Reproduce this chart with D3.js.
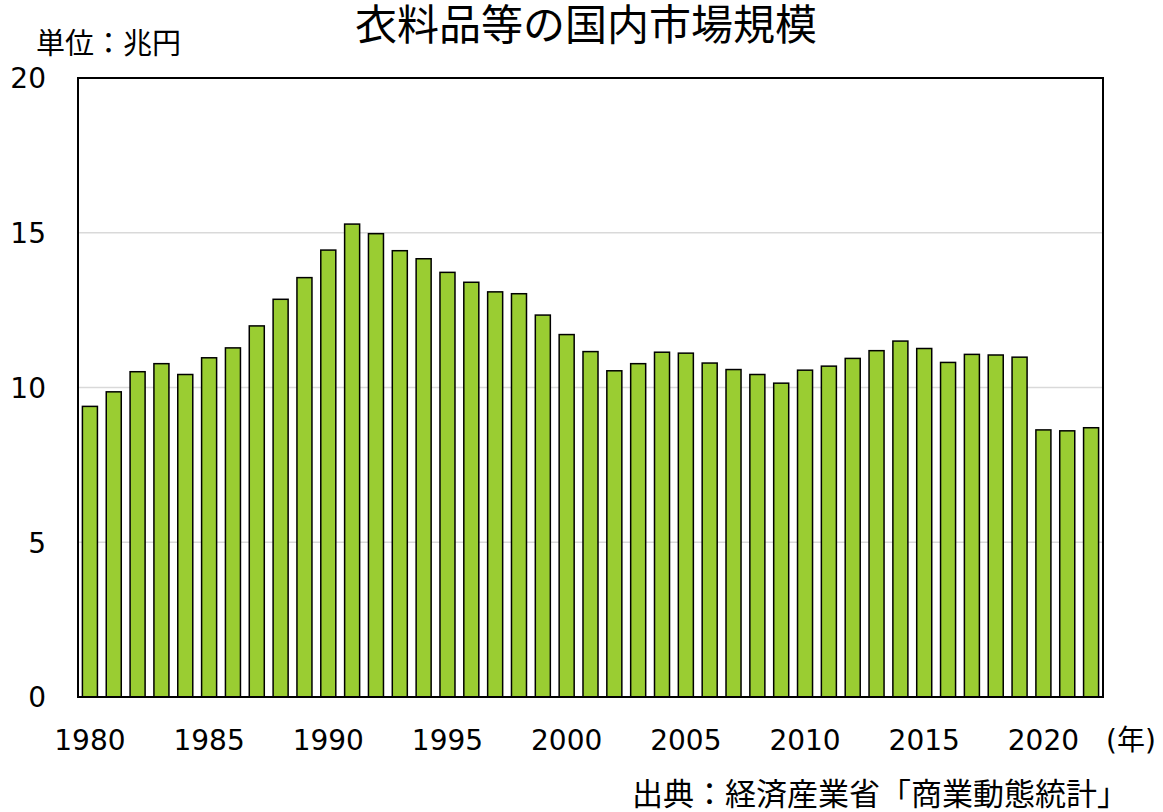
<!DOCTYPE html>
<html>
<head>
<meta charset="utf-8">
<script src="https://cdn.jsdelivr.net/npm/d3@7"></script>
<style>
  body { margin: 0; background: #fff; }
  text { font-family: "DejaVu Sans", "Noto Sans CJK JP", sans-serif; fill: #000; }
</style>
</head>
<body>
<div id="chart-area"></div>
<script>
/*
*    衣料品等の国内市場規模
*/

// data (兆円)
var years = d3.range(1980, 2023);
var values = [
    9.39, 9.86, 10.51, 10.77, 10.42, 10.96, 11.28, 11.99, 12.85, 13.55,
    14.44, 15.28, 14.97, 14.42, 14.16, 13.72, 13.40, 13.09, 13.03, 12.34,
    11.71, 11.16, 10.54, 10.77, 11.14, 11.11, 10.79, 10.58, 10.42, 10.14,
    10.56, 10.69, 10.94, 11.19, 11.50, 11.26, 10.81, 11.07, 11.05, 10.98,
    8.63, 8.60, 8.70
];
var yTicks = [0, 5, 10, 15, 20];
var xTickYears = [1980, 1985, 1990, 1995, 2000, 2005, 2010, 2015, 2020];

var data = years.map(function(y, i){ return { year: y, value: values[i] }; });

var margin = { left:78, right:60, top:78, bottom:115 },
    width = 1163 - margin.left - margin.right,
    height = 812 - margin.top - margin.bottom;

var svg = d3.select("#chart-area")
    .append("svg")
    .attr("width", width + margin.left + margin.right)
    .attr("height", height + margin.top + margin.bottom);
var g = svg.append("g")
    .attr("transform", "translate(" + margin.left + "," + margin.top + ")");

// Scales
var x = d3.scaleBand()
    .domain(years)
    .range([0, width])
    .paddingInner(0.37)
    .paddingOuter(0.185);
var y = d3.scaleLinear()
    .domain([0, 20])
    .range([height, 0]);

// Gridlines
g.selectAll(".grid")
    .data(yTicks.filter(function(d){ return d > 0 && d < 20; }))
    .enter().append("line")
    .attr("class", "grid")
    .attr("x1", 0)
    .attr("x2", width)
    .attr("y1", function(d){ return y(d); })
    .attr("y2", function(d){ return y(d); })
    .attr("stroke", "#d9d9d9")
    .attr("stroke-width", 1.5);

// Bars
g.selectAll(".bar")
    .data(data)
    .enter().append("rect")
    .attr("class", "bar")
    .attr("x", function(d){ return x(d.year); })
    .attr("y", function(d){ return y(d.value); })
    .attr("width", x.bandwidth())
    .attr("height", function(d){ return height - y(d.value); })
    .attr("fill", "#9acd32")
    .attr("stroke", "#000")
    .attr("stroke-width", 1.5);

// Frame
g.append("rect")
    .attr("width", width)
    .attr("height", height)
    .attr("fill", "none")
    .attr("stroke", "#000")
    .attr("stroke-width", 2);

// X-axis
var xAxisCall = d3.axisBottom(x)
    .tickValues(xTickYears)
    .tickSize(0)
    .tickPadding(0);
var xAxis = g.append("g")
    .attr("class", "x axis")
    .attr("transform", "translate(0," + height + ")")
    .call(xAxisCall);
xAxis.select(".domain").remove();
xAxis.selectAll("text")
    .attr("y", 43)
    .attr("dy", "0.35em")
    .attr("font-size", "28px");

// Y-axis
var yAxisCall = d3.axisLeft(y)
    .tickValues(yTicks)
    .tickSize(0)
    .tickPadding(0);
var yAxis = g.append("g")
    .attr("class", "y axis")
    .call(yAxisCall);
yAxis.select(".domain").remove();
yAxis.selectAll("text")
    .attr("x", -32)
    .attr("dy", "0.35em")
    .attr("font-size", "28px");
svg.selectAll(".axis").attr("font-family", null);

// Labels
svg.append("text")
    .attr("x", 586)
    .attr("y", 40)
    .attr("text-anchor", "middle")
    .attr("font-size", "42px")
    .text("衣料品等の国内市場規模");

svg.append("text")
    .attr("x", 36)
    .attr("y", 54)
    .attr("font-size", "29px")
    .text("単位：兆円");

svg.append("text")
    .attr("x", 1106)
    .attr("y", 740)
    .attr("dy", "0.35em")
    .attr("font-size", "28px")
    .text("(年)");

svg.append("text")
    .attr("x", 1128)
    .attr("y", 805)
    .attr("text-anchor", "end")
    .attr("font-size", "31px")
    .text("出典：経済産業省「商業動態統計」");
</script>
</body>
</html>
